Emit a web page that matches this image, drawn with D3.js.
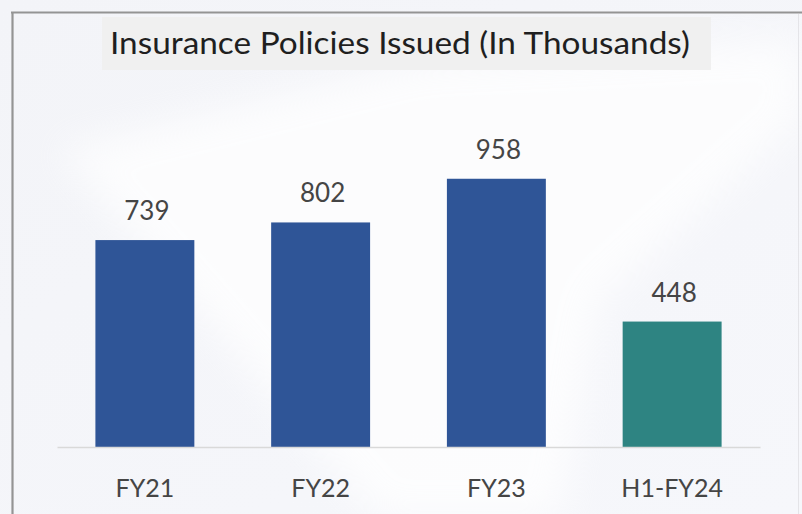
<!DOCTYPE html>
<html>
<head>
<meta charset="utf-8">
<script src="https://cdn.jsdelivr.net/npm/d3@7/dist/d3.min.js"></script>
<style>
  html, body { margin: 0; padding: 0; background: #f7f8fb; }
  svg { display: block; }
  text { font-family: Lato, "Open Sans", sans-serif; }
</style>
</head>
<body>
<svg id="chart" width="802" height="514"></svg>
<script>
// Policies issued per period, in thousands
const periods = ["FY21", "FY22", "FY23", "H1-FY24"];
const policies = [739, 802, 958, 448];
const barColors = ["#2f5597", "#2f5597", "#2f5597", "#2e8482"];
const chartTitle = "Insurance Policies Issued (In Thousands)";

const W = 802, H = 514;
const svg = d3.select("#chart");

// soft background with a lighter diagonal sweep
const defs = svg.append("defs");
const bg = defs.append("linearGradient").attr("id", "bgGrad")
  .attr("x1", "0").attr("y1", "0").attr("x2", "1").attr("y2", "1");
bg.append("stop").attr("offset", "0").attr("stop-color", "#f3f4f8");
bg.append("stop").attr("offset", "1").attr("stop-color", "#f6f7fb");
defs.append("filter").attr("id", "soft")
  .append("feGaussianBlur").attr("stdDeviation", 18);

svg.append("rect").attr("width", W).attr("height", H).attr("fill", "url(#bgGrad)");
svg.append("path")
  .attr("d", "M60,150 L420,60 L802,40 L802,120 L600,300 L560,520 L380,520 Z")
  .attr("fill", "#ffffff").attr("opacity", 0.75).attr("filter", "url(#soft)");

// frame
svg.append("line").attr("x1", 11).attr("x2", W).attr("y1", 12.5).attr("y2", 12.5)
  .attr("stroke", "#949494").attr("stroke-width", 2.2);
svg.append("line").attr("x1", 12.5).attr("x2", 12.5).attr("y1", 12).attr("y2", H)
  .attr("stroke", "#949494").attr("stroke-width", 2.2);
svg.append("line").attr("x1", 798.5).attr("x2", 798.5).attr("y1", 14).attr("y2", H)
  .attr("stroke", "#e4e4e8").attr("stroke-width", 1);

// title band
svg.append("rect").attr("x", 102).attr("y", 17).attr("width", 609).attr("height", 53)
  .attr("fill", "#f0f0f0");
svg.append("text").attr("x", 400).attr("y", 54)
  .attr("text-anchor", "middle").attr("font-size", 31).attr("fill", "#1f1f1f")
  .attr("textLength", 580).attr("lengthAdjust", "spacingAndGlyphs")
  .text(chartTitle);

// scales
const x = d3.scaleBand().domain(periods).range([57, 760])
  .paddingInner(0.437).paddingOuter(0.2185);
const y = d3.scaleLinear().domain([0, 1000]).range([447, 167]);

// bars
svg.append("g").selectAll("rect").data(periods).join("rect")
  .attr("x", d => x(d))
  .attr("y", (d, i) => y(policies[i]))
  .attr("width", x.bandwidth())
  .attr("height", (d, i) => y(0) - y(policies[i]))
  .attr("fill", (d, i) => barColors[i]);

// value labels
svg.append("g").selectAll("text").data(periods).join("text")
  .attr("x", d => x(d) + x.bandwidth() / 2 + 2)
  .attr("y", (d, i) => y(policies[i]) - 20)
  .attr("text-anchor", "middle").attr("font-size", 26).attr("fill", "#454545")
  .text((d, i) => policies[i]);

// category axis
const axis = svg.append("g").attr("transform", `translate(0,${y(0)})`)
  .call(d3.axisBottom(x).tickSize(0).tickSizeOuter(0));
axis.select(".domain").attr("stroke", "#d9d9d9").attr("stroke-width", 1.5);
axis.selectAll(".tick text")
  .attr("y", 50).attr("dy", 0)
  .attr("font-size", 25).attr("fill", "#454545")
  .style("font-family", "Lato, 'Open Sans', sans-serif");
</script>
</body>
</html>
